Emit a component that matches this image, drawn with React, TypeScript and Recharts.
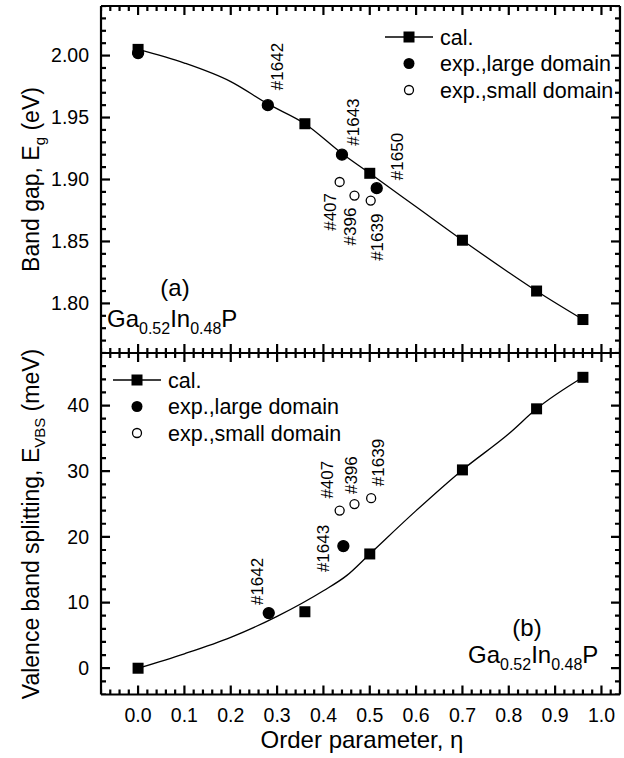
import React from 'react';
import { ComposedChart, Line, XAxis, YAxis } from 'recharts';

const FONT = '"Liberation Sans", Arial, Helvetica, sans-serif';

// ---- values ----
const calEta = [0, 0.36, 0.5, 0.7, 0.86, 0.96];
const calGap = [2.005, 1.945, 1.905, 1.851, 1.81, 1.787];
const calVbs = [0, 8.6, 17.4, 30.2, 39.5, 44.3];

// the smooth calculated curve, sampled where it is drawn
const fitGapEta = [0, 0.1, 0.2, 0.28, 0.36, 0.44, 0.5, 0.6, 0.7, 0.8, 0.86, 0.96];
const fitGap = [2.005, 1.994, 1.979, 1.961, 1.945, 1.921, 1.905, 1.878, 1.851, 1.825, 1.81, 1.787];
const fitVbsEta = [0, 0.1, 0.2, 0.3, 0.4, 0.45, 0.5, 0.6, 0.7, 0.8, 0.86, 0.96];
const fitVbs = [0, 2.2, 4.7, 7.9, 11.8, 14.1, 17.4, 24.0, 30.2, 35.7, 39.5, 44.3];

const largeGapEta = [0, 0.28, 0.44, 0.515];
const largeGap = [2.002, 1.96, 1.92, 1.893];
const largeGapId = ['', '#1642', '#1643', '#1650'];

const smallGapEta = [0.435, 0.467, 0.502];
const smallGap = [1.898, 1.887, 1.883];
const smallGapId = ['#407', '#396', '#1639'];

const largeVbsEta = [0.282, 0.443];
const largeVbs = [8.4, 18.6];
const largeVbsId = ['#1642', '#1643'];

const smallVbsEta = [0.435, 0.467, 0.503];
const smallVbs = [24.0, 25.0, 25.9];
const smallVbsId = ['#407', '#396', '#1639'];

const legendLabels = ['cal.', 'exp.,large domain', 'exp.,small domain'];

// ---- axes ----
const etaDomain = [-0.08, 1.04];
const gapDomain = [1.76, 2.04];
const vbsDomain = [-4, 48];
const etaStep = 0.1;
const gapStep = 0.05;
const vbsStep = 10;

const steps = (from: number, to: number, step: number) => {
  const n = Math.round((to - from) / step);
  return Array.from({ length: n + 1 }, (_, i) => +(from + i * step).toFixed(4));
};
// every tick position (minor + major); majors are picked out by their step
const etaTicks = steps(-0.08, 1.04, 0.02);
const gapTicks = steps(1.76, 2.04, 0.01);
const vbsTicks = steps(-4, 48, 2);

const pts = (xs: number[], ys: number[], ids?: string[]) =>
  xs.map((x, i) => ({ x, y: ys[i], id: ids ? ids[i] : '' }));

// where each sample tag sits relative to its point (px), text rotated 90deg
const notePos: Record<string, { dx: number; dy: number; end?: boolean }> = {
  'a#1642': { dx: 9, dy: -15 },
  'a#1643': { dx: 11, dy: -9 },
  'a#1650': { dx: 20, dy: -8 },
  'a#407': { dx: -10, dy: 11, end: true },
  'a#396': { dx: -4, dy: 12, end: true },
  'a#1639': { dx: 6, dy: 13, end: true },
  'b#1642': { dx: -12, dy: -8 },
  'b#1643': { dx: -20, dy: 26 },
  'b#407': { dx: -13, dy: -12 },
  'b#396': { dx: -3, dy: -10 },
  'b#1639': { dx: 7, dy: -12 },
};

const THIN = 0.01; // axes take (almost) no room, the margins place the frame
const frameLine = { stroke: '#000', strokeWidth: 2.2 };

type Side = 'bottom' | 'top' | 'left' | 'right';
const isMajor = (v: number, step: number) => Math.abs(v / step - Math.round(v / step)) < 1e-6;

// tick labels only (the marks are drawn by the tick series below)
const tickLabel = (side: Side, step: number, fmt?: (v: number) => string) => (p: any) => {
  const v = Number(p.payload?.value);
  if (!fmt || !isMajor(v, step)) return <g />;
  const x = Number(p.x);
  const y = Number(p.y);
  return side === 'bottom' ? (
    <text x={x} y={y + 13.5} dy="0.71em" textAnchor="middle" fontSize={19.5} fontFamily={FONT} fill="#000">
      {fmt(v)}
    </text>
  ) : (
    <text x={x - 12} y={y} dy="0.35em" textAnchor="end" fontSize={19.5} fontFamily={FONT} fill="#000">
      {fmt(v)}
    </text>
  );
};

// inward tick marks, one point per tick sitting on the frame
const tickDot = (side: Side, step: number) => (p: any) => {
  const v = side === 'bottom' || side === 'top' ? p.payload.x : p.payload.y;
  const len = isMajor(v, step) ? 9 : 5;
  const { cx, cy } = p;
  let d = '';
  if (side === 'bottom') d = `M${cx},${cy}V${cy - len}`;
  if (side === 'top') d = `M${cx},${cy}V${cy + len}`;
  if (side === 'left') d = `M${cx},${cy}H${cx + len}`;
  if (side === 'right') d = `M${cx},${cy}H${cx - len}`;
  return <path key={`${side}${p.index}`} d={d} stroke="#000" strokeWidth={2.2} fill="none" />;
};

function tickSeries(yDomain: number[], yTicks: number[], yStep: number, id: string) {
  const sets: [Side, { x: number; y: number }[], number][] = [
    ['bottom', etaTicks.map((x) => ({ x, y: yDomain[0] })), etaStep],
    ['top', etaTicks.map((x) => ({ x, y: yDomain[1] })), etaStep],
    ['left', yTicks.map((y) => ({ x: etaDomain[0], y })), yStep],
    ['right', yTicks.map((y) => ({ x: etaDomain[1], y })), yStep],
  ];
  return sets.map(([side, data, step]) => (
    <Line
      key={`${id}${side}`}
      xAxisId="xb"
      yAxisId="yl"
      dataKey="y"
      data={data}
      stroke="none"
      dot={tickDot(side, step)}
      activeDot={false}
      isAnimationActive={false}
    />
  ));
}

function xAxes(showLabels: boolean) {
  const common = {
    type: 'number' as const,
    dataKey: 'x',
    domain: etaDomain,
    allowDataOverflow: true,
    height: THIN,
    interval: 0 as const,
    minTickGap: 0,
    ticks: etaTicks,
    tickSize: 0,
    tickMargin: 0,
    tickLine: false,
    axisLine: frameLine,
  };
  return [
    <XAxis key="xb" xAxisId="xb" {...common} orientation="bottom"
      tick={tickLabel('bottom', etaStep, showLabels ? (v) => v.toFixed(1) : undefined)} />,
    <XAxis key="xt" xAxisId="xt" {...common} orientation="top" tick={tickLabel('top', etaStep)} />,
  ];
}

function yAxes(domain: number[], ticks: number[], step: number, fmt: (v: number) => string) {
  const common = {
    type: 'number' as const,
    domain,
    allowDataOverflow: true,
    width: THIN,
    interval: 0 as const,
    minTickGap: 0,
    ticks,
    tickSize: 0,
    tickMargin: 0,
    tickLine: false,
    axisLine: frameLine,
  };
  return [
    <YAxis key="yl" yAxisId="yl" {...common} orientation="left" tick={tickLabel('left', step, fmt)} />,
    <YAxis key="yr" yAxisId="yr" {...common} orientation="right" tick={tickLabel('right', step)} />,
  ];
}

// legend drawn in svg: x = left end of the sample line, y = centre of first row
function legendBlock(x: number, y: number, key: string) {
  const row = 26.5;
  return (
    <g key={key} fontFamily={FONT} fontSize={21.5} fill="#000">
      <line x1={x} x2={x + 48} y1={y} y2={y} stroke="#000" strokeWidth={1.3} />
      <rect x={x + 18.5} y={y - 5.5} width={11} height={11} fill="#000" />
      <text x={x + 55} y={y} dy="0.35em">{legendLabels[0]}</text>
      <circle cx={x + 24} cy={y + row} r={5.5} fill="#000" />
      <text x={x + 55} y={y + row} dy="0.35em">{legendLabels[1]}</text>
      <circle cx={x + 24} cy={y + 2 * row} r={4.5} fill="#fff" stroke="#000" strokeWidth={1.3} />
      <text x={x + 55} y={y + 2 * row} dy="0.35em">{legendLabels[2]}</text>
    </g>
  );
}

function alloy(x: number, y: number, key: string) {
  return (
    <text key={key} x={x} y={y} fontFamily={FONT} fontSize={24} fill="#000">
      Ga<tspan dy={7} fontSize={16}>0.52</tspan>
      <tspan dy={-7}>In</tspan>
      <tspan dy={7} fontSize={16}>0.48</tspan>
      <tspan dy={-7}>P</tspan>
    </text>
  );
}

const square = (p: any) => (
  <rect key={`sq${p.index}`} x={p.cx - 5.5} y={p.cy - 5.5} width={11} height={11} fill="#000" />
);

const circleDot = (panel: string, filled: boolean) => (p: any) => {
  const id = p.payload?.id;
  const pos = notePos[panel + id];
  const tx = pos ? p.cx + pos.dx : 0;
  const ty = pos ? p.cy + pos.dy : 0;
  return (
    <g key={`${panel}${filled ? 'f' : 'o'}${p.index}`}>
      <circle
        cx={p.cx}
        cy={p.cy}
        r={filled ? 5.5 : 4.5}
        fill={filled ? '#000' : '#fff'}
        stroke="#000"
        strokeWidth={1.3}
      />
      {pos && (
        <text
          x={tx}
          y={ty}
          dy="0.35em"
          transform={`rotate(-90 ${tx} ${ty})`}
          textAnchor={pos.end ? 'end' : 'start'}
          fontSize={17}
          fontFamily={FONT}
          fill="#000"
        >
          {id}
        </text>
      )}
    </g>
  );
};

const seriesProps = { xAxisId: 'xb', yAxisId: 'yl', dataKey: 'y', isAnimationActive: false };

export default function App() {
  const BOTTOM_TOP = 343;
  return (
    <div style={{ position: 'relative', width: 624, height: 758, background: '#fff' }}>
      <style>{'body{margin:0}'}</style>
      <div style={{ position: 'absolute', left: 0, top: 0 }}>
        <ComposedChart width={624} height={363} margin={{ top: 6, right: 4, bottom: 10, left: 101 }}>
          {xAxes(false)}
          {yAxes(gapDomain, gapTicks, gapStep, (v) => v.toFixed(2))}
          {tickSeries(gapDomain, gapTicks, gapStep, 'a')}
          <Line {...seriesProps} data={pts(fitGapEta, fitGap)} type="monotone" stroke="#000" strokeWidth={1.3} dot={false} />
          <Line {...seriesProps} data={pts(largeGapEta, largeGap, largeGapId)} stroke="none" dot={circleDot('a', true)} />
          <Line {...seriesProps} data={pts(smallGapEta, smallGap, smallGapId)} stroke="none" dot={circleDot('a', false)} />
          <Line {...seriesProps} data={pts(calEta, calGap)} stroke="none" dot={square} />
          {legendBlock(385, 37, 'lga')}
          <text x={175} y={296} textAnchor="middle" fontFamily={FONT} fontSize={24} fill="#000">(a)</text>
          {alloy(107, 327, 'ala')}
          <text x={31} y={179.5} dy="0.35em" transform="rotate(-90 31 179.5)" textAnchor="middle"
            fontFamily={FONT} fontSize={23} fill="#000">
            Band gap, E<tspan dy={6} fontSize={15}>g</tspan><tspan dy={-6}> (eV)</tspan>
          </text>
        </ComposedChart>
      </div>
      <div style={{ position: 'absolute', left: 0, top: BOTTOM_TOP }}>
        <ComposedChart width={624} height={415} margin={{ top: 10, right: 4, bottom: 63.5, left: 101 }}>
          {xAxes(true)}
          {yAxes(vbsDomain, vbsTicks, vbsStep, (v) => String(v))}
          {tickSeries(vbsDomain, vbsTicks, vbsStep, 'b')}
          <Line {...seriesProps} data={pts(fitVbsEta, fitVbs)} type="monotone" stroke="#000" strokeWidth={1.3} dot={false} />
          <Line {...seriesProps} data={pts(largeVbsEta, largeVbs, largeVbsId)} stroke="none" dot={circleDot('b', true)} />
          <Line {...seriesProps} data={pts(smallVbsEta, smallVbs, smallVbsId)} stroke="none" dot={circleDot('b', false)} />
          <Line {...seriesProps} data={pts(calEta, calVbs)} stroke="none" dot={square} />
          <g transform={`translate(0 ${-BOTTOM_TOP})`}>
            {legendBlock(113, 380, 'lgb')}
            <text x={527} y={635.5} textAnchor="middle" fontFamily={FONT} fontSize={24} fill="#000">(b)</text>
            {alloy(468, 662.5, 'alb')}
            <text x={31} y={524} dy="0.35em" transform="rotate(-90 31 524)" textAnchor="middle"
              fontFamily={FONT} fontSize={23} fill="#000">
              Valence band splitting, E<tspan dy={6} fontSize={15}>VBS</tspan><tspan dy={-6}> (meV)</tspan>
            </text>
            <text x={362} y={748} textAnchor="middle" fontFamily={FONT} fontSize={24} fill="#000">
              Order parameter, η
            </text>
          </g>
        </ComposedChart>
      </div>
    </div>
  );
}
